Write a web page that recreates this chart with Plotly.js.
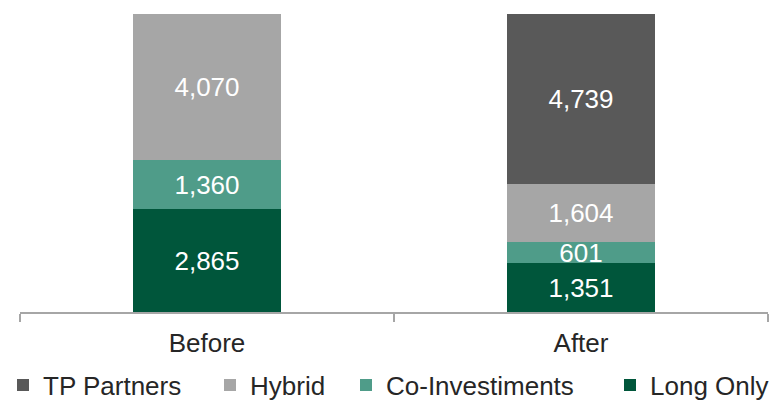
<!DOCTYPE html>
<html>
<head>
<meta charset="utf-8">
<script src="https://cdn.plot.ly/plotly-3.0.1.min.js"></script>
<style>html,body{margin:0;padding:0;background:#fff;}#chart{width:772px;height:405px;}</style>
</head>
<body>
<div id="chart"></div>
<script>
var categories = ['Before', 'After'];
var longOnly = [2865, 1351];
var coInvestiments = [1360, 601];
var hybrid = [4070, 1604];
var tpPartners = [null, 4739];
var seriesNames = ['Long Only', 'Co-Investiments', 'Hybrid', 'TP Partners'];
var seriesColors = ['#00563b', '#4f9c89', '#a6a6a6', '#595959'];
var seriesValues = [longOnly, coInvestiments, hybrid, tpPartners];
var legendIds = ['legend4', 'legend3', 'legend2', 'legend'];

var fontFamily = '"Liberation Sans", Arial, sans-serif';
var traces = seriesValues.map(function (vals, i) {
  return {
    type: 'bar',
    name: seriesNames[i],
    x: categories,
    y: vals,
    marker: {color: seriesColors[i], line: {width: 0}},
    texttemplate: '%{y:,}',
    textposition: 'inside',
    insidetextanchor: 'middle',
    constraintext: 'none',
    textfont: {family: fontFamily, size: 26, color: '#ffffff'},
    hoverinfo: 'skip',
    legend: legendIds[i]
  };
});

function legendAt(px) {
  return {
    xref: 'container', yref: 'container',
    x: px / 772, xanchor: 'left',
    y: 1 - 385 / 405, yanchor: 'middle',
    orientation: 'h',
    bgcolor: 'rgba(0,0,0,0)',
    borderwidth: 0,
    font: {family: fontFamily, size: 26, color: '#262626'},
    itemwidth: 30
  };
}

var layout = {
  width: 772, height: 405,
  margin: {l: 20, r: 4, t: 14, b: 93},
  paper_bgcolor: '#ffffff', plot_bgcolor: '#ffffff',
  barmode: 'stack',
  bargap: 0.604,
  showlegend: true,
  legend: legendAt(3),
  legend2: legendAt(210),
  legend3: legendAt(346),
  legend4: legendAt(610),
  xaxis: {
    type: 'category',
    automargin: false,
    showline: true, linecolor: '#a6a6a6', linewidth: 2,
    ticks: 'outside', tickson: 'boundaries', ticklen: 8, tickcolor: '#a6a6a6', tickwidth: 2,
    ticklabelstandoff: 7,
    showgrid: false, zeroline: false,
    tickfont: {family: fontFamily, size: 26, color: '#262626'},
    fixedrange: true
  },
  yaxis: {
    range: [0, 8295],
    automargin: false,
    visible: false, showgrid: false, zeroline: false, fixedrange: true
  }
};

Plotly.newPlot('chart', traces, layout, {displayModeBar: false, staticPlot: true});
</script>
</body>
</html>
